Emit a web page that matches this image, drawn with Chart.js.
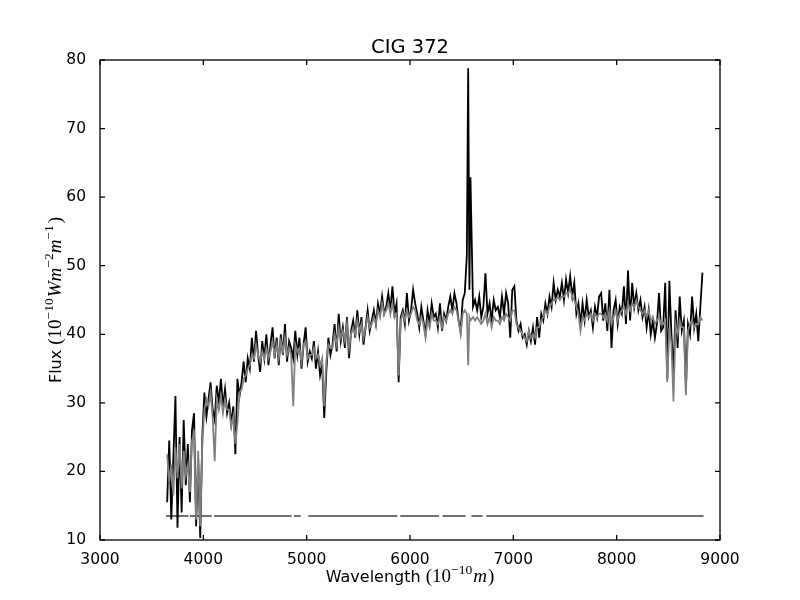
<!DOCTYPE html>
<html>
<head>
<meta charset="utf-8">
<title>CIG 372</title>
<script src="https://cdn.jsdelivr.net/npm/chart.js@4.4.1/dist/chart.umd.min.js"></script>
<style>
  html, body { margin: 0; padding: 0; background: #fff; }
</style>
</head>
<body>
<canvas id="spectrumChart" width="800" height="600"></canvas>
<script>
// Longitud de onda (Angstrom)
const wavelength = [
  3650, 3670, 3690, 3710, 3730, 3750, 3770, 3790, 3810, 3830,
  3850, 3870, 3890, 3910, 3930, 3950, 3970, 3990, 4010, 4030,
  4050, 4070, 4090, 4110, 4130, 4150, 4170, 4190, 4210, 4230,
  4250, 4270, 4290, 4310, 4330, 4350, 4370, 4390, 4410, 4430,
  4450, 4470, 4490, 4510, 4530, 4550, 4570, 4590, 4610, 4630,
  4650, 4670, 4690, 4710, 4730, 4750, 4770, 4790, 4810, 4830,
  4850, 4870, 4890, 4910, 4930, 4950, 4970, 4990, 5010, 5030,
  5050, 5070, 5090, 5110, 5130, 5150, 5170, 5190, 5210, 5230,
  5250, 5270, 5290, 5310, 5330, 5350, 5370, 5390, 5410, 5430,
  5450, 5470, 5490, 5510, 5530, 5550, 5570, 5590, 5610, 5630,
  5650, 5670, 5690, 5710, 5730, 5750, 5770, 5790, 5810, 5830,
  5850, 5870, 5890, 5910, 5930, 5950, 5970, 5990, 6010, 6030,
  6050, 6070, 6090, 6110, 6130, 6150, 6170, 6190, 6210, 6230,
  6250, 6270, 6290, 6310, 6330, 6350, 6370, 6390, 6410, 6430,
  6450, 6470, 6490, 6510, 6530, 6550, 6563, 6575, 6585, 6610, 6630,
  6650, 6670, 6690, 6710, 6730, 6750, 6770, 6790, 6810, 6830,
  6850, 6870, 6890, 6910, 6930, 6950, 6970, 6990, 7010, 7030,
  7050, 7070, 7090, 7110, 7130, 7150, 7170, 7190, 7210, 7230,
  7250, 7270, 7290, 7310, 7330, 7350, 7370, 7390, 7410, 7430,
  7450, 7470, 7490, 7510, 7530, 7550, 7570, 7590, 7610, 7630,
  7650, 7670, 7690, 7710, 7730, 7750, 7770, 7790, 7810, 7830,
  7850, 7870, 7890, 7910, 7930, 7950, 7970, 7990, 8010, 8030,
  8050, 8070, 8090, 8110, 8130, 8150, 8170, 8190, 8210, 8230,
  8250, 8270, 8290, 8310, 8330, 8350, 8370, 8390, 8410, 8430,
  8450, 8470, 8490, 8510, 8530, 8550, 8570, 8590, 8610, 8630,
  8650, 8670, 8690, 8710, 8730, 8750, 8770, 8790, 8810, 8830
];

// Espectro observado (negro)
const observedFlux = [
  15.5, 24.5, 13.0, 22.0, 31.0, 11.8, 25.0, 14.0, 27.5, 18.0,
  24.0, 15.5, 26.0, 28.5, 12.0, 22.0, 10.3, 25.0, 31.5, 28.0,
  30.5, 33.0, 29.0, 27.5, 32.5, 30.0, 33.5, 29.5, 32.0, 28.5,
  30.0, 27.0, 29.5, 22.5, 33.5, 31.0, 33.0, 36.0, 33.0, 36.5,
  35.0, 39.5, 36.0, 40.5, 37.0, 34.5, 39.0, 36.5, 40.0, 35.5,
  38.5, 41.0, 36.5, 39.5, 35.5, 40.0, 37.0, 41.5, 36.0, 39.0,
  38.0, 36.5, 40.5, 37.0, 39.5, 35.0, 38.5, 41.0, 36.0, 37.5,
  36.5, 39.0, 35.0, 37.5, 34.0, 35.5, 27.8, 34.5, 39.5, 37.0,
  38.5, 41.5, 37.5, 43.0, 39.0, 41.0, 38.0, 42.5, 36.5, 40.5,
  42.0, 39.5, 43.5, 40.0, 42.5, 38.5, 41.0, 43.5, 40.5, 42.0,
  43.5, 41.5, 44.5, 43.0, 45.5, 43.0, 44.0, 46.0, 43.5, 47.0,
  43.0, 44.5, 33.0, 42.5, 43.5, 41.5, 46.0, 42.0, 43.5, 46.5,
  44.5, 43.0, 41.0, 44.0, 42.0, 40.0, 43.5, 41.5, 44.5, 42.5,
  43.0, 41.0, 44.5, 40.5, 43.0, 42.0, 44.0, 45.5, 43.5, 46.0,
  44.5, 42.0, 40.5, 45.0, 46.0, 51.5, 78.8, 46.5, 62.9, 44.0, 45.0,
  43.5, 45.5, 42.5, 44.0, 48.9, 43.0, 44.5, 42.0, 45.0, 43.5,
  44.0, 42.5, 45.5, 43.0, 46.0, 44.5, 39.5, 46.5, 47.0, 42.0,
  40.5, 41.5, 39.5, 40.0, 38.5, 40.5, 39.0, 41.0, 38.5, 42.5,
  39.5, 43.0, 42.0, 44.5, 43.0, 45.5, 44.0, 47.5, 45.0, 46.5,
  45.5, 47.5, 45.0, 48.0, 46.0, 48.5, 45.5, 47.5, 43.0, 44.5,
  41.5, 44.5, 42.0, 45.0, 42.5, 43.5, 41.0, 44.0, 42.5, 45.5,
  46.0, 42.0, 44.5, 40.5, 46.5, 38.0, 43.5, 45.0, 41.5, 44.0,
  43.0, 47.0, 41.5, 49.3, 42.0, 47.5, 44.0, 46.0, 43.5, 45.0,
  42.5, 44.0, 41.0, 43.5, 40.0, 42.0, 39.5, 41.5, 46.0, 40.5,
  41.0, 47.5, 33.5, 47.8, 40.0, 34.5, 43.5, 38.0, 45.5, 40.5,
  42.0, 32.0, 41.5, 40.0, 45.5, 41.0, 43.0, 39.0, 44.0, 49.0
];

// Espectro del modelo (gris)
const modelFlux = [
  22.5, 18.5, 21.0, 16.5, 23.5, 19.0, 24.0, 17.5, 23.0, 19.5,
  21.0, 17.0, 24.5, 25.5, 13.0, 23.0, 12.0, 24.0, 29.0, 30.5,
  29.5, 31.5, 28.0, 21.5, 30.5, 29.0, 31.0, 28.5, 30.5, 29.0,
  29.0, 26.5, 28.0, 24.0, 27.0, 31.5, 32.0, 33.5, 34.0, 35.0,
  35.5, 37.0, 36.5, 38.5, 37.0, 36.0, 37.5, 36.5, 38.0, 36.5,
  37.5, 39.0, 37.0, 38.5, 36.5, 39.0, 37.5, 39.5, 37.0, 38.0,
  37.0, 29.5, 38.5, 37.5, 38.0, 36.0, 38.5, 39.0, 36.5, 37.0,
  37.0, 38.0, 36.5, 37.0, 35.5, 36.5, 29.5, 36.0, 38.5, 38.0,
  38.0, 40.0, 38.5, 41.0, 39.5, 40.5, 39.0, 41.5, 38.0, 40.0,
  41.0, 40.0, 42.0, 40.5, 41.5, 39.5, 41.0, 42.5, 41.0, 41.5,
  42.5, 41.5, 43.5, 42.5, 44.5, 43.0, 43.5, 44.5, 43.0, 44.5,
  42.5, 43.0, 34.0, 42.0, 43.0, 42.0, 43.5, 42.5, 43.0, 44.0,
  43.5, 42.0, 41.5, 42.5, 41.5, 39.5, 42.0, 41.0, 43.0, 42.0,
  42.0, 41.5, 42.5, 41.0, 42.5, 42.0, 43.0, 43.5, 43.0, 44.0,
  43.5, 42.0, 40.0, 43.0, 43.5, 43.0, 35.5, 42.5, 42.0, 42.5, 42.0,
  42.5, 42.0, 41.5, 42.0, 43.0, 41.5, 42.5, 41.0, 42.5, 42.0,
  42.0, 41.5, 42.5, 42.0, 43.0, 42.5, 42.0, 43.5, 43.5, 41.5,
  41.0, 40.5, 40.0, 39.5, 39.0, 40.5, 39.5, 40.0, 39.5, 41.0,
  41.0, 42.0, 42.5, 43.5, 43.0, 44.0, 44.5, 45.0, 45.0, 45.5,
  45.0, 45.5, 45.5, 46.0, 46.0, 46.5, 45.5, 45.0, 44.0, 43.0,
  40.5, 42.5, 42.0, 43.0, 42.5, 43.0, 42.0, 43.0, 42.5, 43.0,
  43.0, 42.5, 43.0, 42.0, 43.5, 41.5, 42.5, 43.5, 42.0, 43.0,
  43.5, 44.0, 43.0, 44.5, 43.5, 44.5, 44.0, 45.0, 44.0, 43.5,
  43.0, 43.5, 42.5, 43.5, 42.0, 42.5, 41.5, 42.0, 42.5, 41.5,
  41.5, 42.0, 33.0, 41.0, 38.5, 30.2, 41.5, 40.0, 42.0, 41.0,
  41.0, 31.1, 40.5, 41.5, 42.0, 41.0, 41.5, 41.5, 42.5, 42.0
];

// Tramos de la máscara (línea horizontal)
const maskStart = [3639, 3871, 4103, 4877, 5016, 5906, 6315, 6595, 6739];
const maskEnd   = [3855, 4081, 4855, 4942, 5878, 6280, 6538, 6703, 8841];
const maskLevel = 13.5;

const xTicks = [3000, 4000, 5000, 6000, 7000, 8000, 9000];
const yTicks = [10, 20, 30, 40, 50, 60, 70, 80];

const SANS = '"DejaVu Sans", sans-serif';
const SERIF = '"Liberation Serif", "DejaVu Serif", serif';

const observedPoints = wavelength.map((w, i) => ({ x: w, y: observedFlux[i] }));
const modelPoints = wavelength.map((w, i) => ({ x: w, y: modelFlux[i] }));
const maskPoints = [];
maskStart.forEach((s, i) => {
    maskPoints.push({ x: s, y: maskLevel });
    maskPoints.push({ x: maskEnd[i], y: maskLevel });
    maskPoints.push({ x: maskEnd[i], y: null });
});

// texto con superíndices, centrado en (x, y)
function drawRich(ctx, parts, x, y, angle) {
    ctx.save();
    ctx.translate(x, y);
    ctx.rotate(angle);
    ctx.textAlign = 'left';
    ctx.textBaseline = 'alphabetic';
    ctx.fillStyle = '#000';
    let total = 0;
    parts.forEach(p => {
        ctx.font = p.font;
        p.w = ctx.measureText(p.t).width + (p.gap || 0);
        total += p.w;
    });
    let cx = -total / 2;
    parts.forEach(p => {
        ctx.font = p.font;
        ctx.fillText(p.t, cx, -(p.rise || 0));
        cx += p.w;
    });
    ctx.restore();
}

const base = '19px ' + SERIF;
const ital = 'italic 19px ' + SERIF;
const sup = '13.5px ' + SERIF;

const xLabelParts = [
    { t: 'Wavelength ', font: '16px ' + SANS },
    { t: '(10', font: base },
    { t: '\u221210', font: sup, rise: 8, gap: 1 },
    { t: 'm', font: ital, gap: 1 },
    { t: ')', font: base }
];
const yLabelParts = [
    { t: 'Flux ', font: '16px ' + SANS },
    { t: '(10', font: base },
    { t: '\u221210', font: sup, rise: 8, gap: 1 },
    { t: 'W', font: ital },
    { t: 'm', font: ital },
    { t: '\u22122', font: sup, rise: 8 },
    { t: 'm', font: ital },
    { t: '\u22121', font: sup, rise: 8, gap: 2 },
    { t: ')', font: base }
];

const framePlugin = {
    id: 'frame',
    afterDraw(chart) {
        const { ctx, chartArea: a, scales } = chart;
        ctx.save();
        ctx.strokeStyle = '#000';
        ctx.lineWidth = 1.3;
        ctx.strokeRect(a.left, a.top, a.right - a.left, a.bottom - a.top);
        ctx.beginPath();
        xTicks.forEach(v => {
            const px = scales.x.getPixelForValue(v);
            ctx.moveTo(px, a.bottom); ctx.lineTo(px, a.bottom - 5);
            ctx.moveTo(px, a.top); ctx.lineTo(px, a.top + 5);
        });
        yTicks.forEach(v => {
            const py = scales.y.getPixelForValue(v);
            ctx.moveTo(a.left, py); ctx.lineTo(a.left + 5, py);
            ctx.moveTo(a.right, py); ctx.lineTo(a.right - 5, py);
        });
        ctx.stroke();

        ctx.fillStyle = '#000';
        ctx.font = '19.5px ' + SANS;
        ctx.textAlign = 'center';
        ctx.textBaseline = 'alphabetic';
        ctx.fillText('CIG 372', (a.left + a.right) / 2, 52.7);

        drawRich(ctx, xLabelParts, (a.left + a.right) / 2, 582, 0);
        drawRich(ctx, yLabelParts, 61, (a.top + a.bottom) / 2, -Math.PI / 2);
        ctx.restore();
    }
};

const ctx = document.getElementById('spectrumChart').getContext('2d');
new Chart(ctx, {
    type: 'line',
    data: {
        datasets: [
            { label: 'Modelo', data: modelPoints, borderColor: '#808080', borderWidth: 1.8,
              pointRadius: 0, tension: 0, order: 0 },
            { label: 'Observado', data: observedPoints, borderColor: '#000000', borderWidth: 1.8,
              pointRadius: 0, tension: 0, order: 1 },
            { label: 'Máscara', data: maskPoints, borderColor: '#65737b', borderWidth: 2,
              pointRadius: 0, spanGaps: false, order: 2 }
        ]
    },
    options: {
        responsive: false,
        animation: false,
        events: [],
        layout: { padding: { top: 60, right: 80, left: 0, bottom: 0 } },
        plugins: {
            legend: { display: false },
            tooltip: { enabled: false },
            title: { display: false }
        },
        scales: {
            x: {
                type: 'linear',
                min: 3000,
                max: 9000,
                grid: { display: false },
                border: { display: false },
                afterFit: s => { s.height = 60; },
                afterBuildTicks: s => { s.ticks = xTicks.map(v => ({ value: v })); },
                ticks: {
                    color: '#000',
                    padding: 3,
                    maxRotation: 0,
                    autoSkip: false,
                    font: { family: SANS, size: 15.5 },
                    callback: v => String(v)
                }
            },
            y: {
                type: 'linear',
                min: 10,
                max: 80,
                grid: { display: false },
                border: { display: false },
                afterFit: s => { s.width = 100; },
                afterBuildTicks: s => { s.ticks = yTicks.map(v => ({ value: v })); },
                ticks: {
                    color: '#000',
                    padding: 6,
                    autoSkip: false,
                    font: { family: SANS, size: 15.5 },
                    callback: v => String(v)
                }
            }
        }
    },
    plugins: [framePlugin]
});
</script>
</body>
</html>
